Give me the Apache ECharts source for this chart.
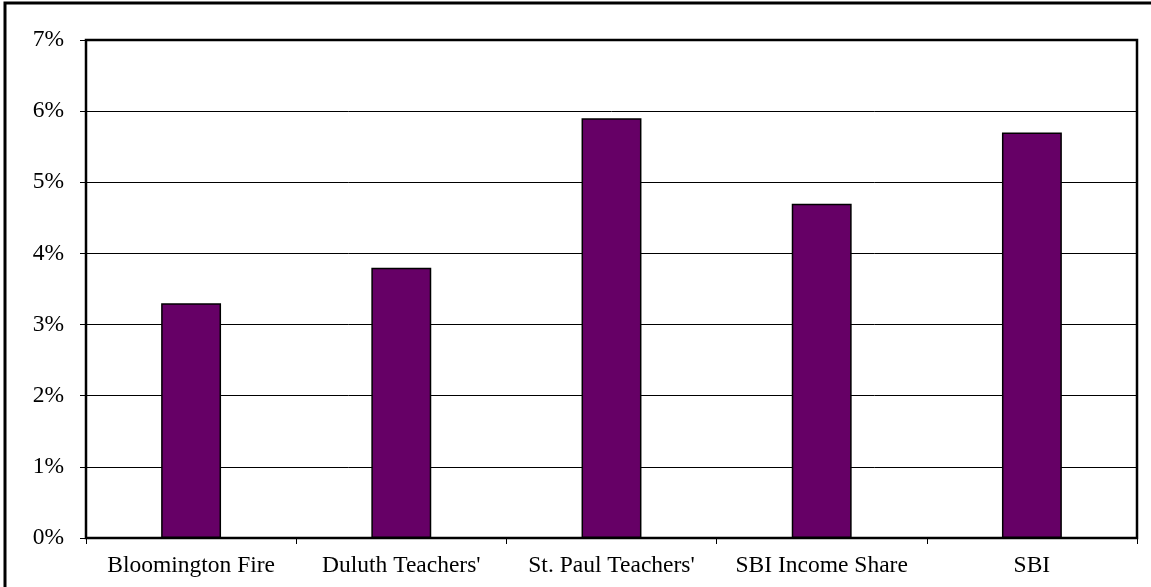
<!DOCTYPE html>
<html>
<head>
<meta charset="utf-8">
<script src="https://cdn.jsdelivr.net/npm/echarts@6/dist/echarts.min.js"></script>
<style>
  html, body { margin: 0; padding: 0; background: #fff; }
  #chart { width: 1151px; height: 587px; }
</style>
</head>
<body>
<div id="chart"></div>
<script>
// fund names and returns (%)
const categories = ['Bloomington Fire', "Duluth Teachers'", "St. Paul Teachers'", 'SBI Income Share', 'SBI'];
const returns = [3.3, 3.8, 5.9, 4.7, 5.7];
const yTicks = [0, 1, 2, 3, 4, 5, 6, 7];

const myChart = echarts.init(document.getElementById('chart'));

const font = '"Liberation Serif", "Times New Roman", serif';

const option = {
  animation: false,
  backgroundColor: '#fff',
  grid: {
    left: 86,
    right: 14,
    top: 40,
    bottom: 49,
    show: true,
    borderColor: '#000',
    borderWidth: 2.5,
    backgroundColor: 'transparent'
  },
  graphic: [
    {
      // outer frame, cut off at right and bottom
      type: 'rect',
      shape: { x: 5, y: 3, width: 1300, height: 800 },
      style: { fill: 'none', stroke: '#000', lineWidth: 3 },
      z: 10
    }
  ],
  xAxis: {
    type: 'category',
    data: categories,
    axisLine: { lineStyle: { color: '#000', width: 1.5 } },
    axisTick: { show: true, interval: 0, length: 6, lineStyle: { color: '#000' } },
    axisLabel: {
      interval: 0,
      hideOverlap: false,
      color: '#000',
      fontFamily: font,
      fontSize: 23.5,
      margin: 16
    }
  },
  yAxis: {
    type: 'value',
    min: yTicks[0],
    max: yTicks[yTicks.length - 1],
    interval: 1,
    axisLine: { show: true, lineStyle: { color: '#000', width: 1.5 } },
    axisTick: { show: true, length: 6, lineStyle: { color: '#000' } },
    splitLine: { lineStyle: { color: '#000', width: 1 } },
    axisLabel: {
      color: '#000',
      fontFamily: font,
      fontSize: 23.5,
      margin: 22,
      formatter: '{value}%'
    }
  },
  series: [
    {
      type: 'bar',
      data: returns,
      barWidth: '28.5%',
      itemStyle: {
        color: '#660066',
        borderColor: '#000',
        borderWidth: 1.5
      }
    }
  ]
};

myChart.setOption(option);
</script>
</body>
</html>
